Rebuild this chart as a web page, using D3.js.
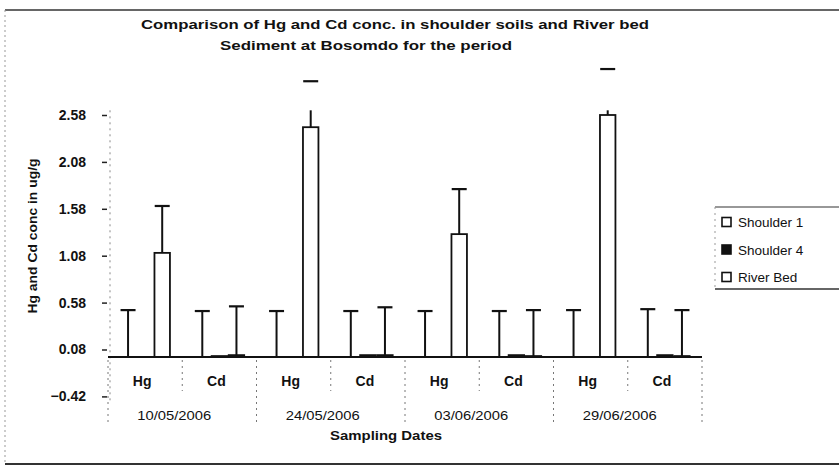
<!DOCTYPE html>
<html>
<head>
<meta charset="utf-8">
<script src="https://cdn.jsdelivr.net/npm/d3@7"></script>
<style>
  html, body { margin: 0; padding: 0; background: #fff; }
  svg { display: block; font-family: "Liberation Sans", Arial, sans-serif; }
</style>
</head>
<body>
<svg id="chart" width="839" height="470"></svg>
<script>
// ---- data ----
const categories = ["Hg", "Cd", "Hg", "Cd", "Hg", "Cd", "Hg", "Cd"];
const dates = ["10/05/2006", "24/05/2006", "03/06/2006", "29/06/2006"];
const seriesNames = ["Shoulder 1", "Shoulder 4", "River Bed"];
const shoulder1 = [0, 0, 0, 0, 0, 0, 0, 0];
const shoulder1Err = [0.50, 0.49, 0.49, 0.49, 0.49, 0.49, 0.50, 0.51];
const shoulder4 = [0, 0.01, 0, 0.02, 0, 0.02, 0, 0.02];
const shoulder4Err = [0, 0, 0, 0, 0, 0, 0, 0];
const riverBed = [1.11, 0.02, 2.45, 0.02, 1.31, 0.01, 2.58, 0.01];
const riverBedErr = [0.50, 0.52, 0.49, 0.51, 0.48, 0.49, 0.49, 0.49];
const yTicks = [-0.42, 0.08, 0.58, 1.08, 1.58, 2.08, 2.58];
const yMax = 2.63;

const seriesValues = [shoulder1, shoulder4, riverBed];
const seriesErrors = [shoulder1Err, shoulder4Err, riverBedErr];
const seriesFill = ["#fff", "#111", "#fff"];

const svg = d3.select("#chart");

// outer frame
svg.append("line").attr("x1", 5).attr("x2", 839).attr("y1", 10).attr("y2", 10)
  .attr("stroke", "#333").attr("stroke-width", 1.6);
svg.append("line").attr("x1", 5).attr("x2", 839).attr("y1", 464).attr("y2", 464)
  .attr("stroke", "#333").attr("stroke-width", 1.8);
svg.append("line").attr("x1", 5).attr("x2", 5).attr("y1", 10).attr("y2", 464)
  .attr("stroke", "#999").attr("stroke-width", 1).attr("stroke-dasharray", "2,3");

// scales
const x0 = d3.scaleBand().domain(d3.range(categories.length)).range([108, 702]).padding(0);
const bw = x0.bandwidth();
const x1 = d3.scaleBand().domain(d3.range(seriesNames.length)).range([bw * 0.155, bw * 0.845]).padding(0);
const y = d3.scaleLinear().domain([0, 2.58]).range([357, 115]);

// title
svg.append("text").attr("x", 395).attr("y", 29).attr("text-anchor", "middle")
  .attr("font-size", 13.5).attr("font-weight", "bold").attr("fill", "#111")
  .attr("textLength", 508).attr("lengthAdjust", "spacingAndGlyphs")
  .text("Comparison of Hg and Cd conc. in shoulder soils and River bed");
svg.append("text").attr("x", 366).attr("y", 50).attr("text-anchor", "middle")
  .attr("font-size", 13.5).attr("font-weight", "bold").attr("fill", "#111")
  .attr("textLength", 292).attr("lengthAdjust", "spacingAndGlyphs")
  .text("Sediment at Bosomdo for the period");

// y axis (dotted line + ticks)
svg.append("line").attr("x1", 110).attr("x2", 110).attr("y1", y(yMax)).attr("y2", y(-0.42) + 4)
  .attr("stroke", "#888").attr("stroke-width", 1).attr("stroke-dasharray", "2,4");
const yAxis = d3.axisLeft(y).tickValues(yTicks).tickFormat(d3.format(".2f")).tickSize(5).tickPadding(16);
const yg = svg.append("g").attr("transform", "translate(107,0)").call(yAxis);
yg.select(".domain").remove();
yg.selectAll(".tick line").attr("stroke", "#222").attr("stroke-width", 1.5);
yg.selectAll(".tick text").attr("font-size", 14).attr("font-weight", "bold").attr("fill", "#111")
  .attr("font-family", "Liberation Sans, Arial, sans-serif");

// y title
svg.append("text").attr("transform", "translate(37,236) rotate(-90)").attr("text-anchor", "middle")
  .attr("font-size", 13).attr("font-weight", "bold").attr("fill", "#111")
  .attr("textLength", 155).attr("lengthAdjust", "spacingAndGlyphs")
  .text("Hg and Cd conc in ug/g");

// category separators
const sepXs = d3.range(categories.length + 1).map(i => i < categories.length ? x0(i) : x0(categories.length - 1) + bw);
sepXs.forEach((sx, i) => {
  const long = i % 2 === 0;
  svg.append("line").attr("x1", sx).attr("x2", sx).attr("y1", y(0) + 3).attr("y2", long ? 423 : 391)
    .attr("stroke", "#777").attr("stroke-width", 1).attr("stroke-dasharray", "2,4");
});

// category labels
svg.append("g").selectAll("text").data(categories).join("text")
  .attr("x", (d, i) => x0(i) + bw / 2 - 3).attr("y", 386).attr("text-anchor", "middle")
  .attr("font-size", 14).attr("fill", "#111").attr("font-weight", "bold")
  .text(d => d);
svg.append("g").selectAll("text").data(dates).join("text")
  .attr("x", (d, i) => x0(i * 2) + bw - 8).attr("y", 420).attr("text-anchor", "middle")
  .attr("font-size", 13).attr("fill", "#111")
  .attr("textLength", 74).attr("lengthAdjust", "spacingAndGlyphs")
  .text(d => d);
svg.append("text").attr("x", 386).attr("y", 440).attr("text-anchor", "middle")
  .attr("font-size", 13.5).attr("font-weight", "bold").attr("fill", "#111")
  .attr("textLength", 112).attr("lengthAdjust", "spacingAndGlyphs")
  .text("Sampling Dates");

// bars
const plotTop = y(yMax);
const groups = svg.append("g").selectAll("g").data(categories).join("g")
  .attr("transform", (d, i) => `translate(${x0(i)},0)`);

seriesNames.forEach((s, si) => {
  groups.append("rect")
    .attr("x", x1(si) + 0.8).attr("width", x1.bandwidth() - 1.6)
    .attr("y", (d, i) => y(Math.max(0, seriesValues[si][i])))
    .attr("height", (d, i) => Math.abs(y(0) - y(seriesValues[si][i])))
    .attr("fill", seriesFill[si]).attr("stroke", "#111").attr("stroke-width", 1.8);
});

// baseline
svg.append("line").attr("x1", 108).attr("x2", 702).attr("y1", y(0)).attr("y2", y(0))
  .attr("stroke", "#111").attr("stroke-width", 1.8);

// error bars (plus only)
seriesNames.forEach((s, si) => {
  groups.each(function (d, i) {
    const err = seriesErrors[si][i];
    if (!err) return;
    const v = seriesValues[si][i];
    const cx = x1(si) + x1.bandwidth() / 2;
    const top = y(v + err);
    const g = d3.select(this);
    g.append("line").attr("x1", cx).attr("x2", cx).attr("y1", y(v))
      .attr("y2", Math.max(top, plotTop))
      .attr("stroke", "#111").attr("stroke-width", 2);
    g.append("line").attr("x1", cx - 7.5).attr("x2", cx + 7.5).attr("y1", top).attr("y2", top)
      .attr("stroke", "#111").attr("stroke-width", 2.2);
  });
});

// legend
const lg = svg.append("g");
lg.append("line").attr("x1", 715).attr("x2", 839).attr("y1", 207).attr("y2", 207)
  .attr("stroke", "#333").attr("stroke-width", 1.2);
lg.append("line").attr("x1", 715).attr("x2", 839).attr("y1", 289).attr("y2", 289)
  .attr("stroke", "#333").attr("stroke-width", 1.4);
lg.append("line").attr("x1", 715).attr("x2", 715).attr("y1", 207).attr("y2", 289)
  .attr("stroke", "#999").attr("stroke-width", 1).attr("stroke-dasharray", "2,4");
const items = lg.selectAll("g.item").data(seriesNames).join("g").attr("class", "item")
  .attr("transform", (d, i) => `translate(722,${222 + i * 27.5})`);
items.append("rect").attr("x", 0).attr("y", -4.5).attr("width", 9).attr("height", 9)
  .attr("fill", (d, i) => seriesFill[i]).attr("stroke", "#111").attr("stroke-width", 1.6);
items.append("text").attr("x", 16).attr("y", 5).attr("font-size", 13.5).attr("fill", "#111")
  .text(d => d);
</script>
</body>
</html>
